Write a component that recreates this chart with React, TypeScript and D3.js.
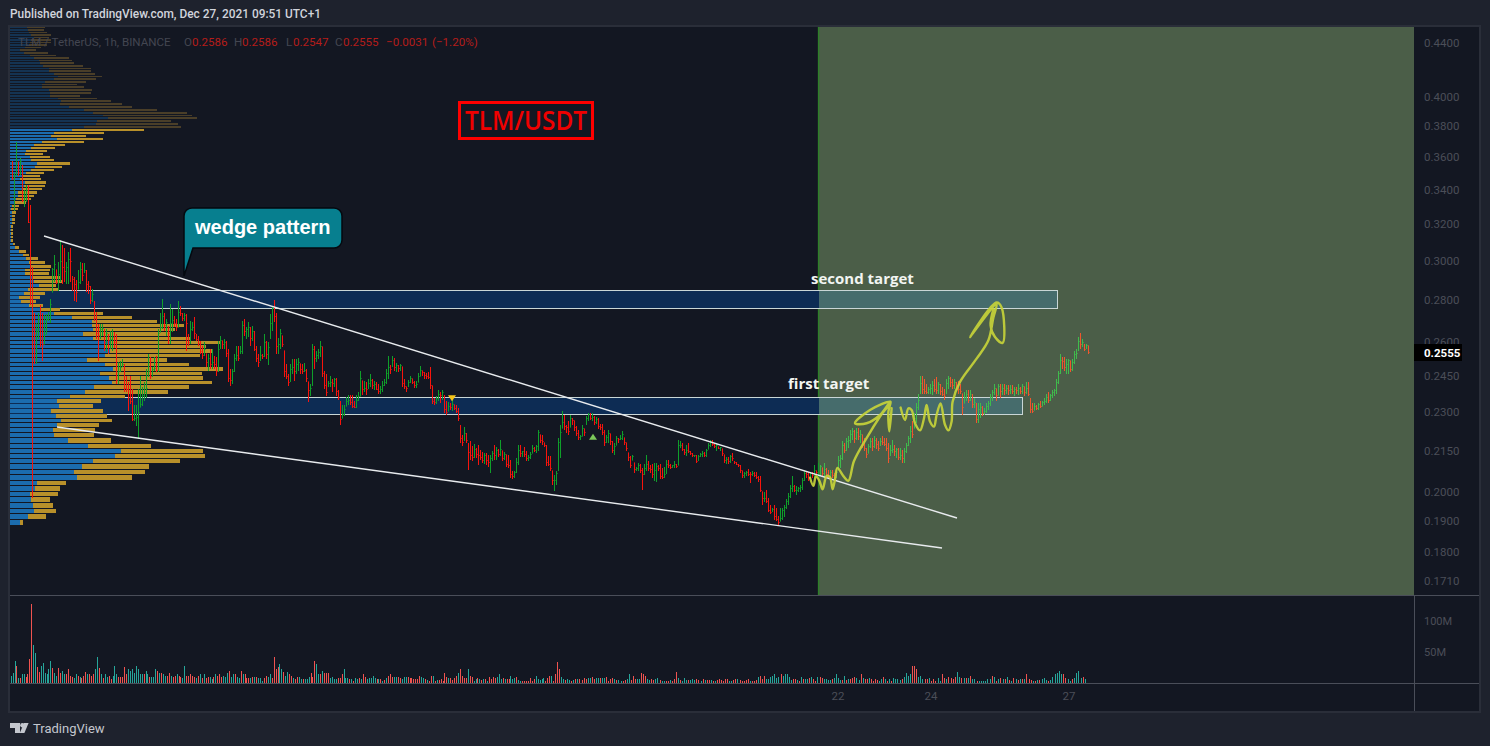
import React from 'react';
import * as d3 from 'd3';

// price values in ten-thousandths of USDT
const highs = [
3577,3501,3700,3570,3596,3551,3397,3427,3427,3308,2971,2738,2690,2738,2776,2738,2728,2733,2743,2805,
2965,3033,2955,2996,3113,3086,3070,2996,3048,3070,2920,2915,2904,2955,2996,2991,2991,2955,2894,2869,
2854,2795,2743,2685,2685,2685,2662,2662,2639,2655,2662,2650,2639,2514,2518,2527,2505,2452,2427,2452,
2398,2330,2328,2398,2452,2406,2427,2483,2549,2536,2492,2536,2540,2662,2738,2805,2738,2709,2676,2781,
2757,2724,2709,2795,2771,2738,2738,2733,2639,2700,2695,2719,2639,2630,2607,2584,2602,2549,2549,2571,
2571,2540,2536,2607,2630,2607,2615,2607,2571,2483,2483,2549,2584,2584,2584,2700,2709,2671,2695,2671,
2676,2652,2584,2549,2584,2549,2639,2607,2602,
2733,2771,2800,2738,2620,2662,2630,2562,2505,2461,2505,2527,2527,2527,2531,2505,2505,2510,2483,2427,
2419,2593,2584,2562,2571,2607,2580,2475,2461,2432,2452,2440,2444,2444,2390,2345,2328,2330,2361,2369,
2369,2369,2345,2369,2385,2475,2432,2432,2427,2440,2461,2440,2432,2427,2415,2410,2432,2440,2483,2540,
2500,2540,2531,2510,2500,2505,2492,2440,2406,2435,2450,2440,2430,2430,2465,2495,2475,2470,2465,2470,
2492,2410,2357,2365,2390,2385,2390,2369,2345,2340,2336,2349,2330,2328,2316,2248,2210,2241,2218,2179,
2187,2168,2176,2160,2171,2152,2146,2142,2142,2135,2135,2150,2171,2165,2155,2190,2150,2145,2135,2133,
2115,2075,2075,2123,2171,2170,2150,2165,2150,2135,2145,2170,2165,2170,2230,2210,2210,2180,2171,2130,
2130,2075,2060,2075,2198,2248,2304,2290,2250,2265,2290,2275,2265,2245,2228,2210,2250,2235,2285,2296,
2296,2296,2285,2280,2275,2255,2255,2228,2210,2228,2215,2187,2180,2205,2200,2210,2225,2200,2180,2142,
2130,2135,2105,2090,2105,2100,2086,2100,2133,2110,2095,2100,2105,2105,2095,2100,2085,2090,2115,2115,
2100,2098,2112,2100,2190,2187,2180,2155,2170,2180,2148,2142,2135,2135,2135,2142,2150,2145,2155,2180,
2190,2192,2180,2180,2165,2165,2158,2135,2125,2125,2135,2142,2110,2108,2100,2095,2075,2070,2075,2080,
2070,2075,2072,2070,2058,2055,2000,2000,2005,1980,1955,1945,1955,1945,1918,1945,1945,1955,1975,1995,
2025,2055,2025,2020,2018,2025,2050,2075,2075,2070,2070,2070,2095,2075,
2105,2097,2086,2105,2085,2078,2078,2078,2068,2086,2130,2133,2187,2179,2198,2205,2230,2237,2230,2237,
2237,2228,2210,2198,2160,2175,2198,2198,2205,2198,2187,2198,2205,2198,2198,2179,2170,2190,2170,2160,
2160,2160,2152,2160,2179,2205,2245,2265,2296,2336,2377,2452,2452,2440,2419,2406,2419,2432,2440,2448,
2427,2419,2406,2398,2440,2452,2448,2440,2440,2427,2432,2419,2377,2385,2390,2390,2390,2377,2357,2336,
2336,2336,2324,2316,2336,2345,2377,2390,2419,2398,2419,2419,2419,2419,2411,2411,2411,2411,2406,2406,
2419,2406,2419,2406,2427,2427,2357,2336,2336,2328,2336,2345,2345,2357,2377,2385,2377,2390,2398,2440,
2475,2549,2536,2536,2527,2527,2518,2527,2562,2571,2625,2645,2616,2593,2593,2586];
const lows = [
3457,3278,3488,3482,3488,3325,3296,3325,3210,2776,1977,2505,2505,2616,2580,2518,2593,2639,2700,2690,
2840,2889,2879,2845,2889,2879,2889,2879,2879,2889,2845,2795,2790,2854,2879,2894,2940,2840,2830,2781,
2790,2700,2616,2518,2616,2630,2562,2558,2549,2570,2562,2575,2419,2419,2470,2492,2385,2385,2304,2332,
2264,2264,2245,2194,2320,2324,2345,2357,2448,2440,2448,2475,2470,2470,2648,2662,2652,2630,2593,2593,
2648,2671,2652,2671,2724,2700,2700,2562,2584,2593,2652,2616,2607,2584,2549,2527,2540,2492,2475,2483,
2483,2483,2452,2470,2571,2571,2571,2536,2427,2410,2419,2470,2518,2518,2549,2549,2630,2616,2625,2584,
2607,2562,2514,2492,2518,2527,2536,2527,2500,
2616,2652,2695,2549,2549,2571,2580,2448,2440,2410,2427,2461,2432,2461,2475,2461,2461,2470,2427,2340,
2368,2410,2483,2514,2527,2536,2448,2398,2365,2406,2406,2385,2406,2368,2349,2248,2276,2285,2324,2328,
2328,2316,2316,2316,2345,2365,2369,2385,2369,2398,2406,2398,2390,2390,2377,2377,2385,2410,2419,2440,
2461,2492,2475,2470,2470,2475,2406,2398,2385,2406,2420,2415,2400,2400,2425,2450,2450,2440,2440,2440,
2398,2335,2330,2335,2345,2336,2349,2296,2288,2304,2310,2304,2308,2296,2264,2179,2168,2187,2179,2079,
2115,2112,2123,2123,2097,2115,2105,2100,2097,2090,2068,2112,2115,2115,2125,2130,2110,2115,2090,2086,
2050,2047,2050,2068,2097,2125,2125,2125,2112,2112,2120,2140,2145,2140,2150,2179,2170,2165,2094,2094,
2075,2025,2004,2025,2075,2123,2237,2230,2218,2210,2240,2250,2225,2205,2190,2190,2205,2205,2250,2265,
2270,2265,2250,2255,2235,2230,2210,2168,2180,2180,2170,2142,2135,2170,2180,2190,2190,2170,2150,2112,
2086,2115,2068,2075,2075,2068,2008,2060,2075,2075,2068,2048,2040,2035,2075,2045,2045,2050,2065,2085,
2080,2085,2085,2085,2095,2160,2150,2135,2130,2140,2132,2125,2125,2105,2112,2125,2125,2125,2125,2155,
2165,2168,2160,2150,2155,2150,2130,2105,2100,2100,2105,2110,2100,2098,2090,2068,2050,2050,2055,2055,
2030,2055,2052,2045,2035,1998,1955,1965,1960,1932,1925,1932,1905,1900,1888,1900,1905,1915,1940,1955,
1980,2000,1998,1990,1998,2000,2008,2040,2050,2040,2045,2050,2050,2055,
2050,2055,2055,2050,2050,2045,2050,2050,2045,2050,2078,2086,2115,2140,2150,2160,2180,2190,2180,2190,
2190,2180,2160,2150,2123,2140,2160,2150,2160,2155,2150,2168,2170,2168,2150,2105,2130,2142,2130,2123,
2115,2115,2105,2105,2140,2168,2179,2198,2237,2256,2308,2377,2377,2377,2377,2377,2377,2369,2385,2377,
2377,2369,2365,2349,2377,2398,2406,2398,2398,2390,2377,2377,2288,2336,2345,2336,2345,2316,2316,2256,
2256,2276,2284,2288,2296,2308,2324,2345,2369,2345,2369,2357,2369,2369,2377,2369,2377,2377,2365,2377,
2369,2373,2377,2365,2377,2365,2296,2296,2308,2308,2308,2316,2324,2328,2336,2336,2345,2357,2365,2377,
2419,2461,2483,2475,2461,2461,2470,2475,2505,2527,2562,2571,2580,2562,2571,2547];
const closes = [
3470,3488,3583,3507,3570,3337,3367,3397,3210,2805,2662,2640,2650,2709,2598,2593,2639,2709,2719,2781,
2955,2981,2889,2930,2996,2965,2945,2965,3007,2996,2904,2879,2840,2889,2955,2925,2950,2879,2870,2800,
2830,2710,2640,2630,2660,2665,2600,2640,2610,2615,2625,2600,2430,2470,2490,2500,2400,2395,2360,2345,
2270,2275,2280,2300,2330,2370,2380,2400,2470,2450,2480,2485,2475,2640,2670,2720,2680,2695,2640,2690,
2700,2690,2670,2740,2735,2710,2725,2690,2600,2660,2670,2640,2615,2595,2560,2540,2570,2510,2530,2500,
2510,2500,2470,2570,2610,2590,2600,2550,2440,2430,2470,2530,2540,2530,2560,2680,2650,2660,2670,2620,
2650,2570,2530,2510,2540,2535,2600,2545,2575,
2690,2760,2720,2580,2590,2640,2590,2470,2450,2425,2480,2490,2470,2500,2510,2480,2470,2475,2440,2390,
2400,2570,2530,2540,2555,2580,2460,2410,2380,2420,2425,2420,2435,2385,2360,2270,2290,2310,2345,2350,
2340,2325,2320,2350,2365,2440,2395,2400,2395,2420,2430,2410,2415,2395,2385,2395,2410,2425,2460,2490,
2480,2520,2490,2495,2485,2495,2420,2405,2400,2425,2440,2425,2410,2415,2450,2475,2465,2455,2450,2445,
2410,2345,2340,2355,2375,2370,2380,2310,2300,2325,2320,2330,2315,2305,2275,2195,2180,2215,2190,2142,
2130,2125,2155,2135,2130,2125,2115,2130,2115,2105,2120,2140,2130,2150,2135,2155,2120,2135,2100,2095,
2060,2053,2070,2105,2150,2140,2145,2135,2120,2125,2135,2160,2150,2165,2220,2190,2185,2170,2105,2100,
2085,2040,2040,2065,2180,2220,2260,2245,2240,2225,2275,2265,2240,2215,2200,2205,2235,2220,2275,2290,
2275,2280,2260,2272,2245,2240,2220,2180,2200,2215,2185,2150,2165,2195,2192,2198,2210,2180,2160,2125,
2095,2128,2080,2085,2095,2075,2060,2085,2100,2085,2080,2060,2075,2090,2085,2055,2050,2060,2100,2095,
2088,2095,2098,2090,2170,2170,2155,2142,2150,2145,2138,2130,2132,2110,2128,2135,2140,2130,2150,2170,
2185,2175,2165,2170,2160,2162,2138,2112,2118,2108,2128,2120,2105,2100,2095,2075,2058,2065,2070,2062,
2060,2065,2058,2050,2042,2005,1975,1975,1965,1935,1930,1940,1915,1905,1895,1910,1935,1945,1965,1985,
2010,2020,2005,2005,2010,2015,2040,2065,2060,2050,2065,2058,2075,2070,
2075,2090,2065,2080,2060,2052,2070,2058,2050,2070,2115,2120,2170,2150,2185,2190,2210,2225,2195,2220,
2205,2210,2170,2160,2135,2165,2185,2165,2190,2175,2160,2185,2180,2172,2158,2120,2150,2155,2145,2155,
2125,2130,2120,2145,2170,2195,2225,2210,2275,2320,2350,2420,2395,2385,2382,2395,2400,2410,2395,2390,
2415,2385,2375,2365,2420,2440,2425,2410,2425,2405,2395,2385,2320,2360,2375,2350,2375,2330,2340,2270,
2310,2320,2295,2305,2325,2335,2360,2380,2400,2370,2405,2385,2400,2390,2400,2388,2395,2385,2395,2390,
2400,2385,2405,2380,2400,2375,2310,2305,2325,2315,2330,2325,2338,2345,2360,2350,2370,2380,2390,2425,
2460,2520,2515,2490,2500,2520,2480,2510,2545,2550,2605,2590,2600,2570,2586,2555];
// volume per hour, millions
const volumes = [
11,16,36,28,8,8,14,15,10,14,38,127,62,49,26,18,28,33,16,15,22,36,24,16,12,24,16,19,14,14,22,11,10,8,14,11,10,8,12,18,
14,14,11,14,23,42,24,14,8,14,10,12,6,11,28,14,10,10,10,26,15,22,20,22,16,28,22,15,14,15,19,15,10,10,10,22,20,16,16,14,
12,12,16,11,10,12,14,12,10,8,28,11,12,14,12,10,8,12,14,8,15,8,10,10,6,10,14,11,14,10,11,10,16,20,10,15,14,10,8,20,
14,14,8,8,8,10,10,10,8,8,4,8,12,10,14,8,42,23,26,30,22,18,12,18,14,12,8,6,10,10,6,6,6,6,10,16,10,36,30,15,
14,20,16,16,16,8,10,6,6,8,8,15,22,8,8,6,6,4,8,6,8,6,15,10,6,8,8,12,8,6,6,6,4,5,8,12,14,10,10,10,
10,8,6,10,10,10,8,8,6,6,6,12,10,8,6,5,4,11,12,4,5,5,6,4,16,10,8,8,5,8,11,16,22,12,8,8,23,12,10,4,
6,8,6,5,6,6,4,10,6,10,8,10,14,6,8,6,6,6,11,6,8,10,5,4,4,3,4,3,8,4,6,12,6,5,6,8,4,8,11,12,4,15,34,
22,10,6,5,6,5,3,5,6,6,6,5,8,6,8,8,10,6,8,8,8,8,8,10,4,6,8,6,5,5,3,3,5,6,14,5,12,6,6,6,
16,14,12,6,5,6,5,6,8,5,4,3,4,4,5,3,6,18,8,5,4,8,5,5,5,6,5,6,5,3,6,5,5,5,5,3,3,5,6,5,
4,6,6,3,4,5,6,6,5,4,3,5,6,4,3,4,5,10,12,6,12,6,6,10,12,14,8,10,14,12,14,15,10,5,6,6,5,4,10,6,
6,6,8,10,6,4,10,10,8,6,6,5,5,6,8,14,8,5,5,12,5,6,6,8,10,8,5,14,8,6,6,8,6,4,6,5,3,6,10,6,
4,6,4,8,6,6,5,6,10,16,12,14,27,28,22,10,12,6,6,6,8,4,6,3,8,4,14,8,6,10,8,6,10,18,10,8,8,8,8,12,
6,6,4,3,3,3,4,6,6,12,10,4,6,8,6,6,10,5,3,8,6,5,6,6,6,14,6,5,3,4,5,5,6,8,5,4,5,10,14,16,
19,15,14,8,6,4,6,8,16,19,8,10,6];
// visible-range volume profile, top row first: up volume then up+down volume
const profileUp = [
17,18,19,21,24,21,20,19,15,10,14,20,24,29,30,33,39,39,44,48,44,35,32,32,39,40,40,48,51,50,59,74,83,93,98,87,86,74,
62,44,41,47,32,24,21,16,15,20,21,27,25,21,16,12,10,15,14,12,8,8,6,5,2,1,2,2,2,2,1,1,1,1,1,3,5,9,
13,16,19,20,15,15,23,24,29,18,14,9,11,19,30,44,62,82,82,83,73,83,100,95,100,95,77,95,103,90,99,102,84,75,60,47,49,41,46,51,47,43,44,58,78,111,105,83,72,64,67,27,25,20,21,23,24,18,10];
const profileTotal = [
35,34,37,41,39,41,41,37,31,26,38,46,59,62,64,73,81,81,85,92,86,76,67,74,82,81,70,87,101,112,122,147,177,182,187,161,168,171,
134,94,76,93,74,55,45,37,33,40,44,60,52,44,34,30,31,36,35,32,27,24,21,16,9,8,6,5,5,5,3,3,3,3,3,5,9,16,
19,28,35,41,40,39,51,52,46,48,35,30,26,33,50,93,122,147,174,165,161,180,211,196,203,190,157,179,213,192,193,202,179,158,115,91,83,93,97,102,89,85,84,101,141,193,195,170,139,135,122,56,50,48,40,43,46,36,13];
const dimmedRows = 38;
const profileTopPrice = 0.4517;
const profileBottomPrice = 0.1893;
const priceTicks = [0.44, 0.4, 0.38, 0.36, 0.34, 0.32, 0.3, 0.28, 0.26, 0.245, 0.23, 0.215, 0.2, 0.19, 0.18, 0.171];
const volumeTicks = [100, 50];
const dateLabels = ['22', '24', '27'];
const dateBars = [413, 459.5, 528.5];
const lastPrice = 0.2555;
const upperWedgeBars = [16, 472.5];
const upperWedgePrices = [0.3135, 0.191];
const lowerWedgeBars = [22.5, 465];
const lowerWedgePrices = [0.2241, 0.1812];
const secondTarget = [0.2847, 0.2758];
const firstTarget = [0.2359, 0.229];
const secondTargetEndBar = 522.5;
const firstTargetEndBar = 505;
const forecastStartBar = 403.3;
const markerDownBar = 220;
const markerDownPrice = 0.2345;
const markerUpBar = 290.5;
const markerUpPrice = 0.2215;
const scribbleA: [number, number][] = [[399,.205],[400.7,.2021],[402,.2056],[403.7,.2039],[405.3,.2009],[407.3,.2056],[409,.2052],[410.3,.2009],[411.5,.2044],[412.7,.2086],[415.7,.2056],[418.2,.2039],[421,.2111],[427.3,.2198],[434,.2283],[439.3,.2343],[429,.2309],[421.5,.2256],[427.3,.2256],[434,.2289],[439.3,.2343],[438.2,.2303],[438.7,.2224],[439.8,.2316]];
const scribbleB: [number, number][] = [[444.3,.2319],[446.5,.2269],[448.2,.2316],[449.8,.2309],[451.5,.2256],[454,.2228],[456,.2276],[457.3,.233],[459,.2263],[461,.2243],[462.3,.2289],[464.3,.2336],[466.5,.225],[468.2,.2228],[469.8,.2263],[470.3,.2343],[474,.2426],[482.3,.2527],[488.2,.261],[490.7,.2717],[492.3,.2781],[479,.2625],[492.3,.2789],[494.8,.2765],[495.3,.2598],[491.5,.2625],[489.3,.2679],[490.7,.2757]];

const UI = 'Roboto, sans-serif';
const AXIS = '#4b4e58';

export default function App() {
  const n = Math.min(highs.length, lows.length, closes.length);
  const x = d3.scaleLinear().domain([0, n - 1]).range([12, 1088]);
  const xVol = d3.scaleLinear().domain([0, 11, 283.5, 458, volumes.length - 1]).range([11, 31, 560, 918, 1085]);
  const y = d3.scaleLog().domain([0.171, 0.44]).range([581, 43]);
  const yVol = d3.scaleLinear().domain([0, 100]).range([683, 621]);
  const xProfile = d3.scaleLinear().domain([0, 200]).range([10, 210]);
  const forecastX = x(forecastStartBar);
  const rows = profileUp.length;
  const step = (profileTopPrice - profileBottomPrice) / (rows - 1);
  const line = d3.line<[number, number]>().x(d => x(d[0])).y(d => y(d[1])).curve(d3.curveCatmullRom.alpha(0.5));

  const zones = [
    { p: secondTarget, end: secondTargetEndBar },
    { p: firstTarget, end: firstTargetEndBar },
  ];

  const barColor = (i: number, up: boolean) => {
    const over = x(i) > forecastX;
    if (up) return over ? '#3fbb4c' : '#0f9f2a';
    return over ? '#f0572c' : '#f8140c';
  };

  return (
    <svg width={1490} height={746} style={{ position: 'absolute', left: 0, top: 0, display: 'block' }} fontFamily={UI}>
      <defs>
        <clipPath id="pane"><rect x={10} y={27} width={1404} height={568} /></clipPath>
      </defs>
      <rect width={1490} height={746} fill="#1e222d" />
      <rect x={9} y={26} width={1471} height={686} fill="#131722" stroke="#2a2e39" strokeWidth={2} />
      <text x={10} y={18} fontSize={11.9} fontWeight={500} fill="#d1d4dc">Published on TradingView.com, Dec 27, 2021 09:51 UTC+1</text>

      <g clipPath="url(#pane)">
        <rect x={forecastX} y={27} width={1414 - forecastX} height={568} fill="#4b5e48" />
        <line x1={forecastX} x2={forecastX} y1={27} y2={595} stroke="#2f7f2a" strokeWidth={1.5} />
        {zones.map((z, i) => {
          const top = y(z.p[0]); const bot = y(z.p[1]); const end = x(z.end);
          return (
            <g key={i} shapeRendering="crispEdges">
              <rect x={10} y={top} width={forecastX - 10} height={bot - top} fill="#0d2c54" />
              <rect x={forecastX} y={top} width={end - forecastX} height={bot - top} fill="#466c6c" />
              <rect x={5} y={top} width={end - 5} height={bot - top} fill="none" stroke="#c9d6d6" strokeWidth={1} />
            </g>
          );
        })}
        <g shapeRendering="crispEdges">
          {profileUp.map((u, i) => {
            const p = profileTopPrice - i * step;
            const t = y(p + step / 2); const b = y(p - step / 2);
            const h = Math.max(1, b - t - 1);
            const dim = i < dimmedRows;
            return (
              <g key={i}>
                <rect x={10} y={t} width={xProfile(u) - 10} height={h} fill={dim ? '#143352' : '#1b6cae'} />
                <rect x={xProfile(u)} y={t} width={xProfile(profileTotal[i]) - xProfile(u)} height={h} fill={dim ? '#4a3e28' : '#b8902a'} />
              </g>
            );
          })}
        </g>
        <g strokeWidth={1} shapeRendering="crispEdges" fill="none">
          {closes.slice(0, n).map((c, i) => {
            const prev = i > 0 ? closes[i - 1] : c + 1;
            const up = c >= prev;
            const open = Math.min(highs[i], Math.max(lows[i], prev));
            const px = Math.round(x(i)) + 0.5;
            const stem = `M${px} ${y(highs[i] / 1e4)}V${y(lows[i] / 1e4)}`;
            const ticks = `M${px - 1} ${y(open / 1e4)}H${px}M${px} ${y(c / 1e4)}H${px + 1}`;
            return (
              <g key={i} stroke={barColor(i, up)}>
                <path d={stem} />
                <path d={ticks} opacity={0.6} />
              </g>
            );
          })}
        </g>
        <line x1={x(upperWedgeBars[0])} y1={y(upperWedgePrices[0])} x2={x(upperWedgeBars[1])} y2={y(upperWedgePrices[1])} stroke="#e8ebee" strokeWidth={1.4} />
        <line x1={x(lowerWedgeBars[0])} y1={y(lowerWedgePrices[0])} x2={x(lowerWedgeBars[1])} y2={y(lowerWedgePrices[1])} stroke="#e8ebee" strokeWidth={1.4} />
        <path d={line(scribbleA) || ''} fill="none" stroke="#c6d23a" strokeWidth={2.4} strokeLinecap="round" opacity={0.92} />
        <path d={line(scribbleB) || ''} fill="none" stroke="#c6d23a" strokeWidth={2.4} strokeLinecap="round" opacity={0.92} />
        <path d={`M${x(markerDownBar) - 4} ${y(markerDownPrice) - 6}h8l-4 6z`} fill="#f5c518" />
        <path d={`M${x(markerUpBar) - 4} ${y(markerUpPrice) + 6}h8l-4 -6z`} fill="#7cc85a" />
      </g>

      <text x={18} y={46} fontSize={11.6} fill="#434651">TLM / TetherUS, 1h, BINANCE</text>
      {[['O', 184], ['H', 234], ['L', 286], ['C', 335]].map(([t, px]) => (
        <text key={t as string} x={px as number} y={46} fontSize={11.6} fill="#434651">{t}</text>
      ))}
      {[['0.2586', 192], ['0.2586', 242], ['0.2547', 293], ['0.2555', 343], ['−0.0031', 386], ['(−1.20%)', 432]].map(([t, px], i) => (
        <text key={i} x={px as number} y={46} fontSize={11.6} fill="#b51d1a">{t}</text>
      ))}

      <rect x={459.5} y={102.5} width={133} height={36} fill="none" stroke="#ff0000" strokeWidth={3} />
      <text x={526} y={130} textAnchor="middle" fontSize={27} fontWeight={600} fontFamily="'Open Sans', sans-serif" fill="#f00000" textLength={122} lengthAdjust="spacingAndGlyphs">TLM/USDT</text>

      <path d="M194 208H334a8 8 0 0 1 8 8V240a8 8 0 0 1 -8 8H193L184 276V216a8 8 0 0 1 8 -8z" fill="#077f8f" stroke="#05090f" strokeWidth={1.5} />
      <text x={195} y={234} fontSize={20} fontWeight={700} fontFamily="'Liberation Sans', sans-serif" fill="#ffffff">wedge pattern</text>
      <text x={811} y={284} fontSize={15} fontWeight={700} fontFamily="'Open Sans', sans-serif" fill="#f2f5f2">second target</text>
      <text x={788} y={389} fontSize={15} fontWeight={700} fontFamily="'Open Sans', sans-serif" fill="#f2f5f2">first target</text>

      {priceTicks.map(t => (
        <text key={t} x={1424} y={y(t) + 4} fontSize={11.5} fill={AXIS}>{t.toFixed(4)}</text>
      ))}
      <rect x={1414} y={344} width={48} height={17} fill="#000000" />
      <text x={1424} y={y(lastPrice) + 4.5} fontSize={11.5} fontWeight={700} fill="#ffffff">{lastPrice.toFixed(4)}</text>

      <g shapeRendering="crispEdges">
        {volumes.map((v, i) => {
          const k = Math.min(n - 1, i);
          const up = k === 0 || closes[k] >= closes[k - 1];
          return <rect key={i} x={Math.round(xVol(i))} y={yVol(v)} width={1} height={683 - yVol(v)} fill={up ? '#26a69a' : '#ef5350'} />;
        })}
        <line x1={10} x2={1479} y1={595.5} y2={595.5} stroke="#4a4e59" />
        <line x1={10} x2={1479} y1={683.5} y2={683.5} stroke="#4a4e59" />
        <line x1={1414.5} x2={1414.5} y1={595} y2={711} stroke="#4a4e59" />
      </g>
      {volumeTicks.map(t => (
        <text key={t} x={1424} y={yVol(t) + 4} fontSize={11} fill={AXIS}>{t}M</text>
      ))}
      {dateLabels.map((t, i) => (
        <text key={t} x={x(dateBars[i])} y={700} textAnchor="middle" fontSize={11.5} fill={AXIS}>{t}</text>
      ))}

      <g fill="#c4c7ce">
        <path d="M10 723H20V733H15V728H10Z" />
        <circle cx={22.4} cy={725.2} r={2.2} />
        <path d="M24 723H28.6L24.4 733H19.8Z" />
      </g>
      <text x={33} y={733} fontSize={13} fill="#c4c7ce">TradingView</text>
    </svg>
  );
}
